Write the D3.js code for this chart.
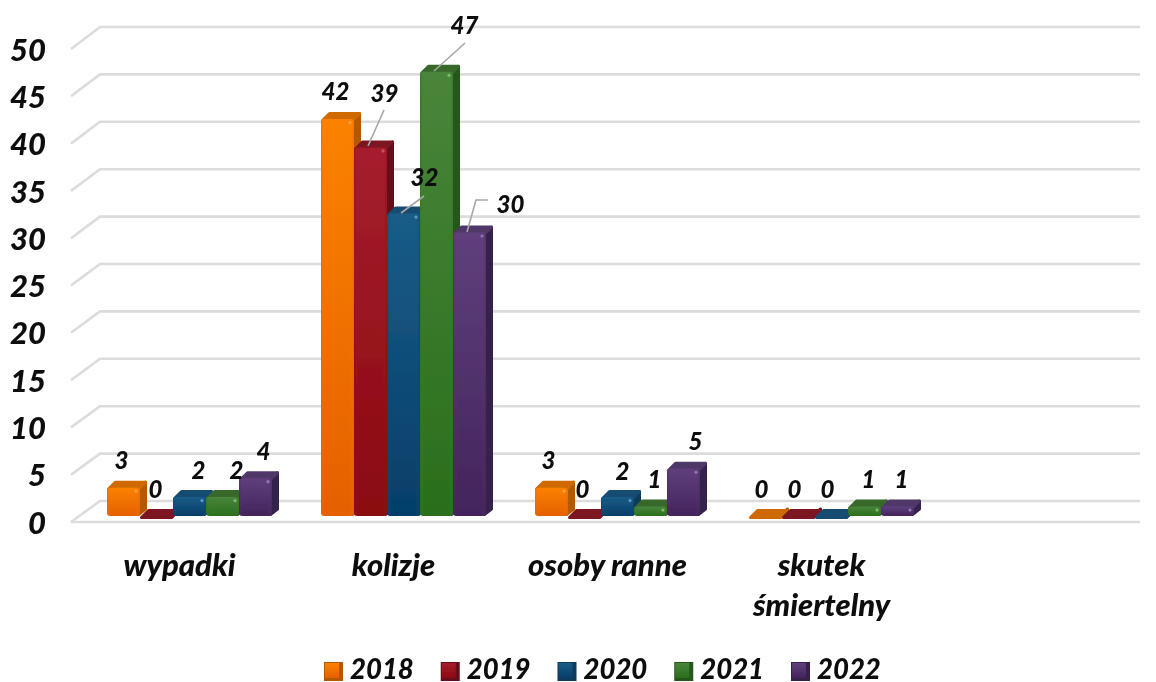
<!DOCTYPE html>
<html><head><meta charset="utf-8">
<script src="https://cdn.jsdelivr.net/npm/d3@7"></script>
<style>html,body{margin:0;padding:0;background:#fff}svg{display:block}text{font-family:Lato,"Open Sans",sans-serif;font-weight:900;font-style:italic;fill:#0a0a0a}</style>
</head><body><svg id="c" width="1156" height="682"></svg>
<script>
const categories = ["wypadki","kolizje","osoby ranne","skutek śmiertelny",""];
const years = ["2018","2019","2020","2021","2022"];
const v2018 = [3,42,3,0];
const v2019 = [0,39,0,0];
const v2020 = [2,32,2,0];
const v2021 = [2,47,1,1];
const v2022 = [4,30,5,1];
const seriesValues = [v2018,v2019,v2020,v2021,v2022];
const ticks = [0,5,10,15,20,25,30,35,40,45,50];
const palette = [
 {a:"#fb8205",b:"#e56000",side:"#b35a00",top:"#cf6a03",hi:"#ffa040"},
 {a:"#a51f2e",b:"#8a0810",side:"#66101a",top:"#7c1220",hi:"#d05060"},
 {a:"#1a5c88",b:"#053e68",side:"#0d3a5a",top:"#124c72",hi:"#5a9ac0"},
 {a:"#49853a",b:"#2a6e1c",side:"#28561e",top:"#37692c",hi:"#80b870"},
 {a:"#5f3f7c",b:"#43245c",side:"#35234c",top:"#4f3868",hi:"#9078b0"}];
// label offsets from the bar's front-top centre, [dx, dy]
const labelOffsets = [
 [[-2,-27],[-1,-27],[9,-27],[14,-27],[8,-27]],
 [[-2,-28],[14,-54],[21,-36],[28,-46],[41,-28]],
 [[-3,-27],[-2,-27],[5,-26],[4,-27],[12,-27]],
 [[-4,-27],[-4,-27],[-4,-27],[4,-27],[4,-27]]];
const leaders = {
 "1-1":[[384,110],[368,146]],
 "1-2":[[424,196],[401,213]],
 "1-3":[[465,43],[434,71]],
 "1-4":[[488,200],[476,200],[467,232]]};

const svg = d3.select("#c");
const defs = svg.append("defs");
palette.forEach((p,i)=>{
  const g = defs.append("linearGradient").attr("id","f"+i).attr("x1",0).attr("y1",0).attr("x2",0).attr("y2",1);
  g.append("stop").attr("offset",0).attr("stop-color",p.a);
  g.append("stop").attr("offset",1).attr("stop-color",p.b);
  const e = defs.append("linearGradient").attr("id","e"+i).attr("x1",0).attr("y1",0).attr("x2",1).attr("y2",0);
  e.append("stop").attr("offset",0).attr("stop-color",p.b).attr("stop-opacity",.45);
  e.append("stop").attr("offset",.12).attr("stop-color",p.a).attr("stop-opacity",0);
  e.append("stop").attr("offset",.88).attr("stop-color",p.a).attr("stop-opacity",0);
  e.append("stop").attr("offset",1).attr("stop-color",p.b).attr("stop-opacity",.45);
});
const soft = defs.append("filter").attr("id","soft").attr("x","-5%").attr("y","-5%").attr("width","110%").attr("height","110%");
soft.append("feGaussianBlur").attr("stdDeviation",.55);
const softT = defs.append("filter").attr("id","softT").attr("x","-10%").attr("y","-10%").attr("width","120%").attr("height","120%");
softT.append("feGaussianBlur").attr("stdDeviation",.35);

const xG = d3.scaleBand().domain(categories).range([70,1140]);
const xS = d3.scaleBand().domain(years).range([37,202]);
const yBack = d3.scaleLinear().domain([0,50]).range([501,27]);
const yWallFront = d3.scaleLinear().domain([0,50]).range([522,49]);
const yBar = d3.scaleLinear().domain([0,50]).range([516,43.5]);
const dx3 = 7, dy3 = 7, round = 3, inset = round/2;

// wall grid
const grid = svg.append("g").attr("fill","none").attr("stroke","#dcdcdc").attr("stroke-width",2.6).attr("filter","url(#softT)");
ticks.forEach(t=>{
  if(t===0){
    grid.append("path").attr("d",`M71,${yWallFront(0)}L1140,${yWallFront(0)}`);
    grid.append("path").attr("d",`M71,${yWallFront(0)}L100,${yBack(0)}L1140,${yBack(0)}`);
  } else {
    grid.append("path").attr("d",`M71,${yWallFront(t)}L100,${yBack(t)}L1140,${yBack(t)}`);
  }
});

// axis labels
const axis = d3.axisLeft(yWallFront).tickValues(ticks).tickSize(0).tickPadding(0);
const ax = svg.append("g").attr("transform","translate(46,0)").call(axis);
ax.select(".domain").remove();
ax.attr("filter","url(#softT)");
ax.selectAll("text").style("font-size","31px").style("font-family","Lato").attr("fill","#0a0a0a").attr("dy","0.36em");

// bars
function drawBar(g,x,w,v,i){
  const p = palette[i], top = yBar(v), base = yBar(0);
  const T = top + inset, R = x + w, Rb = R + dx3 - inset;
  g.append("path").attr("d",`M${R-inset},${T}L${Rb},${top-dy3+inset}L${Rb},${base-dy3}L${R-inset},${base-inset}Z`)
    .attr("fill",p.side).attr("stroke",p.side).attr("stroke-width",round).attr("stroke-linejoin","round");
  g.append("path").attr("d",`M${x+inset},${T}L${x+dx3+inset},${top-dy3+inset}L${Rb},${top-dy3+inset}L${R-inset},${T}Z`)
    .attr("fill",p.top).attr("stroke",p.top).attr("stroke-width",round).attr("stroke-linejoin","round");
  if(v>0){
    g.append("rect").attr("x",x).attr("y",top).attr("width",w).attr("height",base-top).attr("rx",3.5).attr("fill",`url(#f${i})`);
    g.append("rect").attr("x",x).attr("y",top).attr("width",w).attr("height",base-top).attr("rx",3.5).attr("fill",`url(#e${i})`);
    g.append("circle").attr("cx",x+w-4).attr("cy",top+3.5).attr("r",1.6).attr("fill",p.hi);
  }
}
const bars = svg.append("g").attr("filter","url(#soft)");
categories.slice(0,4).forEach((c,ci)=>{
  years.forEach((y,si)=>{
    const g = bars.append("g").attr("class","bar");
    drawBar(g, xG(c)+xS(y), xS.bandwidth(), seriesValues[si][ci], si);
  });
});

// leaders
const lineGen = d3.line();
Object.values(leaders).forEach(pts=>{
  svg.append("path").attr("d",lineGen(pts)).attr("fill","none").attr("stroke","#a6a6a6").attr("stroke-width",1.6);
});

// value labels
const labels = svg.append("g").attr("filter","url(#softT)");
categories.slice(0,4).forEach((c,ci)=>{
  years.forEach((y,si)=>{
    const v = seriesValues[si][ci];
    const [ox,oy] = labelOffsets[ci][si];
    labels.append("text").attr("x",xG(c)+xS(y)+xS.bandwidth()/2+ox).attr("y",yBar(v)+oy)
      .attr("text-anchor","middle").attr("dy","0.36em").style("font-size","24px").text(v);
  });
});

// category labels
const catLines = [["wypadki"],["kolizje"],["osoby ranne"],["skutek","śmiertelny"]];
const cats = svg.append("g").attr("filter","url(#softT)");
catLines.forEach((lines,i)=>{
  const cx = xG(categories[i]) + 109.5;
  lines.forEach((l,j)=>{
    cats.append("text").attr("x",cx).attr("y",565+j*40).attr("text-anchor","middle").attr("dy","0.36em")
      .style("font-size","31px").text(l);
  });
});

// legend
const legX = d3.scalePoint().domain(years).range([324,791]);
const leg = svg.append("g").attr("filter","url(#softT)");
years.forEach((y,i)=>{
  const x = legX(y), g = leg.append("g");
  g.append("rect").attr("x",x).attr("y",662).attr("width",19).attr("height",19).attr("fill",palette[i].side);
  g.append("rect").attr("x",x+1).attr("y",663).attr("width",14).attr("height",15).attr("fill",`url(#f${i})`);
  g.append("text").attr("x",x+26).attr("y",669).attr("dy","0.36em").style("font-size","27.5px").text(y);
});
</script></body></html>
